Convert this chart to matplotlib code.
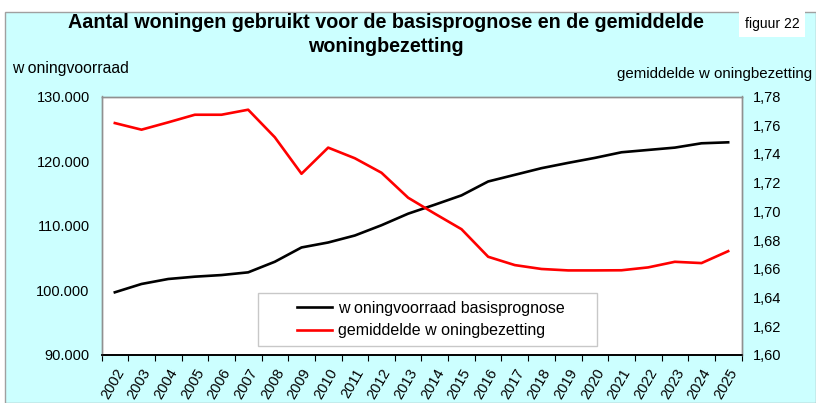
import matplotlib
matplotlib.use("Agg")
import matplotlib.pyplot as plt
from matplotlib.patches import Rectangle

plt.rcParams['font.family'] = ['Liberation Sans', 'DejaVu Sans']

# data
years = [str(y) for y in range(2002, 2026)]
woningvoorraad = [99700, 100990, 101760, 102120, 102370, 102790, 104430, 106640,
                  107410, 108490, 110080, 111870, 113260, 114700, 116850, 117880,
                  118910, 119730, 120500, 121370, 121730, 122090, 122760, 122910]
bezetting = [1.7615, 1.7569, 1.7620, 1.7673, 1.7673, 1.7708, 1.7516, 1.7262,
             1.7444, 1.7370, 1.7269, 1.7095, 1.6984, 1.6876, 1.6684, 1.6626,
             1.6599, 1.6589, 1.6589, 1.6590, 1.6610, 1.6649, 1.6640, 1.6723]
left_ticks = [90000, 100000, 110000, 120000, 130000]
right_ticks = [1.60, 1.62, 1.64, 1.66, 1.68, 1.70, 1.72, 1.74, 1.76, 1.78]

W, H = 816, 403
bg = '#CCFFFF'
fig = plt.figure(figsize=(W / 100, H / 100), dpi=100, facecolor='white')

# cyan chart area with thin gray border, white strip on top
fig.patches.append(Rectangle((5 / W, 0), 1 - 5 / W, 1 - 12 / H, transform=fig.transFigure,
                             facecolor=bg, edgecolor='#A0A0A0', linewidth=1, zorder=-5))

ax = fig.add_axes([101.5 / W, 1 - 355 / H, (741.5 - 101.5) / W, (355 - 96.5) / H])
ax.set_facecolor('white')
x = list(range(len(years)))
l1, = ax.plot(x, woningvoorraad, color='black', lw=1.9, label='w oningvoorraad basisprognose')
ax.set_xlim(-0.5, len(years) - 0.5)
ax.set_ylim(90000, 130000)
ax.set_yticks(left_ticks)
ax.set_yticklabels([f"{v:,}".replace(',', '.') for v in left_ticks], fontsize=10.5)
ax.tick_params(axis='y', length=0, pad=8.5)
ax.set_xticks([i - 0.5 for i in range(len(years) + 1)], minor=False)
ax.set_xticklabels([])
ax.set_xticks(x, minor=True)
ax.set_xticklabels(years, minor=True, rotation=60, ha='right', va='top', fontsize=10.5,
                   rotation_mode='anchor')
ax.tick_params(axis='x', which='major', length=4, direction='out', color='black')
ax.tick_params(axis='x', which='minor', length=0, pad=8)

ax2 = ax.twinx()
l2, = ax2.plot(x, bezetting, color='#FF0000', lw=1.9, label='gemiddelde w oningbezetting')
ax2.set_ylim(1.60, 1.78)
ax2.set_yticks(right_ticks)
ax2.set_yticklabels([f"{v:.2f}".replace('.', ',') for v in right_ticks], fontsize=10.5)
ax2.tick_params(axis='y', length=0, pad=8.5)

for a in (ax, ax2):
    for s in ('top', 'left', 'right'):
        a.spines[s].set_color('#909090')
        a.spines[s].set_linewidth(1)
    a.spines['bottom'].set_color('black')
    a.spines['bottom'].set_linewidth(1.2)

# legend box drawn separately (Excel style, wide left margin)
frame = Rectangle((258 / W, 1 - 346 / H), (597 - 258) / W, (346 - 293) / H,
                  transform=fig.transFigure, facecolor='white', edgecolor='#C8C8C8',
                  linewidth=1, zorder=4, clip_on=False)
ax2.add_artist(frame)
leg = ax2.legend(handles=[l1, l2], loc='center left', bbox_to_anchor=(297 / W, 1 - 319.5 / H),
                 bbox_transform=fig.transFigure, fontsize=11.5, frameon=False,
                 handlelength=2.2, handletextpad=0.35, borderpad=0, borderaxespad=0,
                 labelspacing=0.45)
leg.set_zorder(5)

fig.text(386 / W, 1 - 23 / H, 'Aantal woningen gebruikt voor de basisprognose en de gemiddelde',
         ha='center', va='center', fontsize=14.2, fontweight='bold')
fig.text(386 / W, 1 - 47 / H, 'woningbezetting', ha='center', va='center',
         fontsize=14.2, fontweight='bold')
fig.text(12 / W, 1 - 68 / H, 'w oningvoorraad', ha='left', va='center', fontsize=11.3)
fig.text(812 / W, 1 - 74 / H, 'gemiddelde w oningbezetting', ha='right', va='center',
         fontsize=10.8)
fig.text(772 / W, 1 - 24 / H, 'figuur 22', ha='center', va='center', fontsize=10,
         bbox=dict(facecolor='white', edgecolor='none', pad=4))

fig.savefig('out.png', dpi=100, facecolor=fig.get_facecolor())
